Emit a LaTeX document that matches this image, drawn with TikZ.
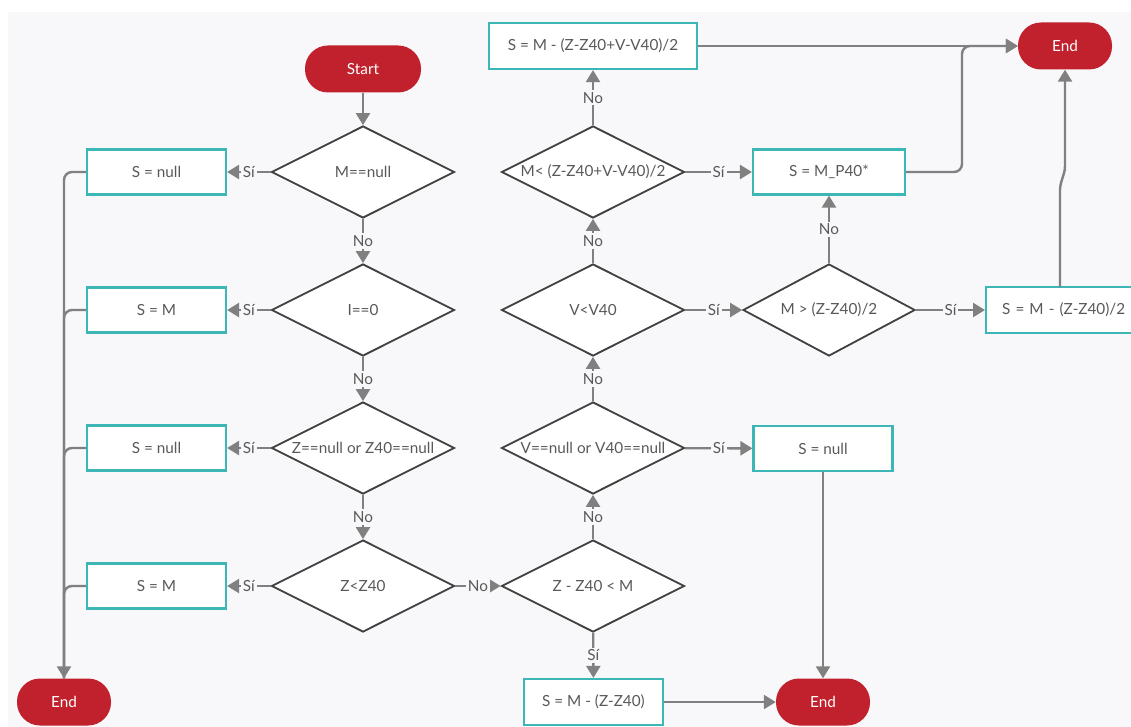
\documentclass[tikz,border=0pt]{standalone}
\usepackage{fontspec}
\setmainfont{Lato}
\usetikzlibrary{shapes.geometric,arrows.meta}
\definecolor{panel}{HTML}{F8F8FA}
\definecolor{redend}{HTML}{C1212C}
\definecolor{tealb}{HTML}{3CB7B5}
\definecolor{linegray}{HTML}{808080}
\definecolor{diab}{HTML}{404040}
\definecolor{txt}{HTML}{595959}
\begin{document}
\begin{tikzpicture}[x=1pt,y=-1pt,
  font=\fontsize{15.3}{17}\selectfont,
  proc/.style={draw=tealb, line width=2.2pt, fill=white, minimum width=139pt, minimum height=45pt, inner sep=0pt, text=txt},
  term/.style={fill=redend, rounded corners=23pt, minimum width=94pt, minimum height=47pt, text=white, inner sep=0pt},
  dia/.style={diamond, draw=diab, fill=white, line width=1.8pt, minimum width=183pt, minimum height=92pt, inner sep=0pt},
  dtext/.style={text=txt, inner sep=0pt},
  link/.style={draw=linegray, line width=2.4pt},
  conn/.style={link, -{Triangle[length=12pt,width=14pt]}},
  lab/.style={fill=panel, text=txt, inner sep=2pt},
]
\useasboundingbox (0,0) rectangle (1131,727);
\clip (0,0) rectangle (1131,727);
\fill[white] (0,0) rectangle (1131,727);
\fill[panel] (7.5,12) rectangle (1131,727);

% terminals
\node[term, minimum width=116pt] (start) at (363,69) {Start};
\node[term] (e1) at (64,702) {End};
\node[term] (e2) at (823,702) {End};
\node[term] (e3) at (1065,46) {End};

% decisions
\node[dia, label={[dtext]center:M==null}] (d1) at (363,172) {};
\node[dia, label={[dtext]center:I==0}] (d2) at (363,310) {};
\node[dia, label={[dtext]center:Z==null or Z40==null}] (d3) at (363,448) {};
\node[dia, label={[dtext]center:Z<Z40}] (d4) at (363,586) {};
\node[dia, label={[dtext]center:Z - Z40 < M}] (d5) at (593,586) {};
\node[dia, label={[dtext]center:V==null or V40==null}] (d6) at (593,448) {};
\node[dia, label={[dtext]center:V<V40}] (d7) at (593,310) {};
\node[dia, label={[dtext]center:M< (Z-Z40+V-V40)/2}] (d8) at (593,172) {};
\node[dia, minimum width=172pt, label={[dtext]center:M > (Z-Z40)/2}] (d9) at (829,310) {};

% processes
\node[proc] (b1) at (156.5,172) {S = null};
\node[proc] (b2) at (156.5,310) {S = M};
\node[proc] (b3) at (156.5,448) {S = null};
\node[proc] (b4) at (156.5,586) {S = M};
\node[proc, minimum height=46pt] (b5) at (593.5,702) {S = M - (Z-Z40)};
\node[proc] (b6) at (823,448.5) {S = null};
\node[proc, minimum width=152pt] (b7) at (829,172) {S = M\_P40*};
\node[proc, anchor=west, minimum height=46pt, inner xsep=16pt, text width=150pt, align=left] (b8) at (985,310) {S = M - (Z-Z40)/2};
\node[proc, minimum width=208pt, minimum height=46pt] (b9) at (593,46) {S = M - (Z-Z40+V-V40)/2};

% connectors
\draw[conn] (start) -- (d1);
\draw[conn] (d1) -- node[lab]{Sí} (b1);
\draw[conn] (d2) -- node[lab]{Sí} (b2);
\draw[conn] (d3) -- node[lab]{Sí} (b3);
\draw[conn] (d4) -- node[lab]{Sí} (b4);
\draw[conn] (d1) -- node[lab]{No} (d2);
\draw[conn] (d2) -- node[lab]{No} (d3);
\draw[conn] (d3) -- node[lab]{No} (d4);
\draw[conn] (d4) -- node[lab]{No} (d5);
\draw[conn] (d5) -- node[lab]{Sí} (b5);
\draw[conn] (d5) -- node[lab]{No} (d6);
\draw[conn] (d6) -- node[lab]{Sí} (b6);
\draw[conn] (d6) -- node[lab]{No} (d7);
\draw[conn] (d7) -- node[lab]{Sí} (d9);
\draw[conn] (d7) -- node[lab]{No} (d8);
\draw[conn] (d8) -- node[lab]{Sí} (b7);
\draw[conn] (d8) -- node[lab]{No} (b9);
\draw[conn] (d9) -- node[lab]{No} (b7);
\draw[conn] (d9) -- node[lab]{Sí} (b8);

% to ends
\draw[link, rounded corners=8pt] (b2.west) -| (e1.north);
\draw[link, rounded corners=8pt] (b3.west) -| (e1.north);
\draw[link, rounded corners=8pt] (b4.west) -| (e1.north);
\draw[conn, rounded corners=8pt] (b1.west) -| (e1.north);
\draw[conn] (b6) -- (e2);
\draw[conn] (b5) -- (e2);
\coordinate (k1) at (962,0);
\draw[conn, rounded corners=8pt] (b7.east) -| (k1 |- e3.west) -- (e3.west);
\draw[conn] (b9) -- (e3);
\coordinate (m0) at (1060,287);
\coordinate (m1) at (1060,186);
\coordinate (m2) at (1065,170);
\draw[conn, rounded corners=4pt] (m0) -- (m1) -- (m2) -- (e3.south);
\end{tikzpicture}
\end{document}
